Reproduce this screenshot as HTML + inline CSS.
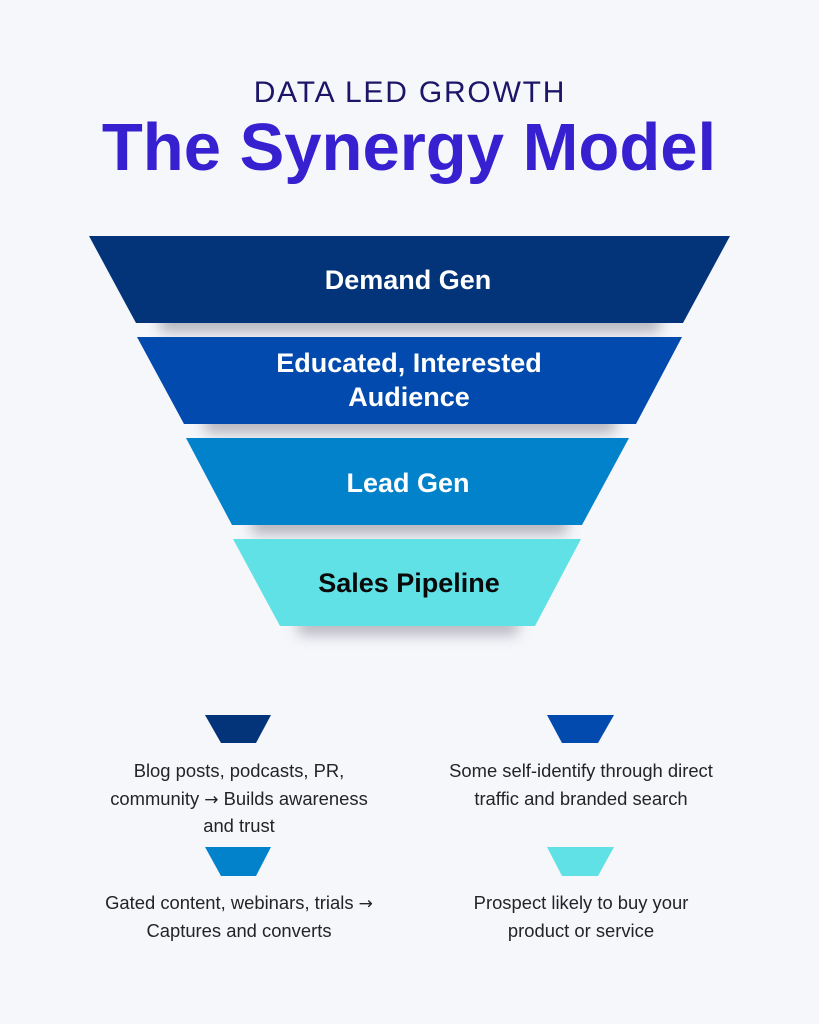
<!DOCTYPE html>
<html>
<head>
<meta charset="utf-8">
<style>
  html,body{margin:0;padding:0;background:#f6f7fb;}
  body{width:819px;height:1024px;overflow:hidden;}
  svg{display:block;}
</style>
</head>
<body>
<svg width="819" height="1024" viewBox="0 0 819 1024" xmlns="http://www.w3.org/2000/svg">
  <defs>
    <filter id="blur" x="-20%" y="-100%" width="140%" height="300%">
      <feGaussianBlur stdDeviation="7"/>
    </filter>
  </defs>
  <rect width="819" height="1024" fill="#f6f7fb"/>

  <!-- Title -->
  <text x="410" y="102" text-anchor="middle" font-size="30" letter-spacing="1.8" fill="#1c1568" font-family="Liberation Sans, sans-serif">DATA LED GROWTH</text>
  <text x="409" y="170" text-anchor="middle" font-size="67" font-weight="bold" fill="#3720cf" font-family="Liberation Sans, sans-serif">The Synergy Model</text>

  <!-- Shadows -->
  <rect x="160" y="312" width="500" height="20" fill="#8e8e9a" opacity="0.65" filter="url(#blur)"/>
  <rect x="205" y="413" width="410" height="20" fill="#8e8e9a" opacity="0.65" filter="url(#blur)"/>
  <rect x="252" y="514" width="315" height="20" fill="#8e8e9a" opacity="0.65" filter="url(#blur)"/>
  <rect x="298" y="615" width="220" height="20" fill="#8e8e9a" opacity="0.6" filter="url(#blur)"/>

  <!-- Funnel layers -->
  <polygon points="89,236 730,236 683,323 136,323" fill="#033479"/>
  <polygon points="137,337 682,337 636,424 184,424" fill="#024aad"/>
  <polygon points="186,438 629,438 582,525 232,525" fill="#0282cb"/>
  <polygon points="233,539 581,539 535,626 280,626" fill="#5fe1e6"/>

  <!-- Layer labels -->
  <g font-family="Liberation Sans, sans-serif" font-weight="bold" font-size="27" text-anchor="middle">
    <text x="408" y="289" fill="#ffffff">Demand Gen</text>
    <text x="409" y="372" fill="#ffffff">Educated, Interested</text>
    <text x="409" y="406" fill="#ffffff">Audience</text>
    <text x="408" y="492" fill="#ffffff">Lead Gen</text>
    <text x="409" y="592" fill="#0a0a0a">Sales Pipeline</text>
  </g>

  <!-- Small trapezoids -->
  <polygon points="205,715 271,715 256,743 221,743" fill="#033479"/>
  <polygon points="547,715 614,715 598,743 562,743" fill="#024aad"/>
  <polygon points="205,847 271,847 256,876 221,876" fill="#0282cb"/>
  <polygon points="547,847 614,847 598,876 562,876" fill="#5fe1e6"/>

  <!-- Descriptions -->
  <g font-family="Liberation Sans, sans-serif" font-size="18.4" fill="#242428" text-anchor="middle">
    <text x="239" y="777">Blog posts, podcasts, PR,</text>
    <text x="239" y="805">community <tspan font-family="DejaVu Sans, sans-serif" font-size="17">→</tspan> Builds awareness</text>
    <text x="239" y="832">and trust</text>

    <text x="581" y="777">Some self-identify through direct</text>
    <text x="581" y="805">traffic and branded search</text>

    <text x="239" y="909">Gated content, webinars, trials <tspan font-family="DejaVu Sans, sans-serif" font-size="17">→</tspan></text>
    <text x="239" y="937">Captures and converts</text>

    <text x="581" y="909">Prospect likely to buy your</text>
    <text x="581" y="937">product or service</text>
  </g>
</svg>
</body>
</html>
